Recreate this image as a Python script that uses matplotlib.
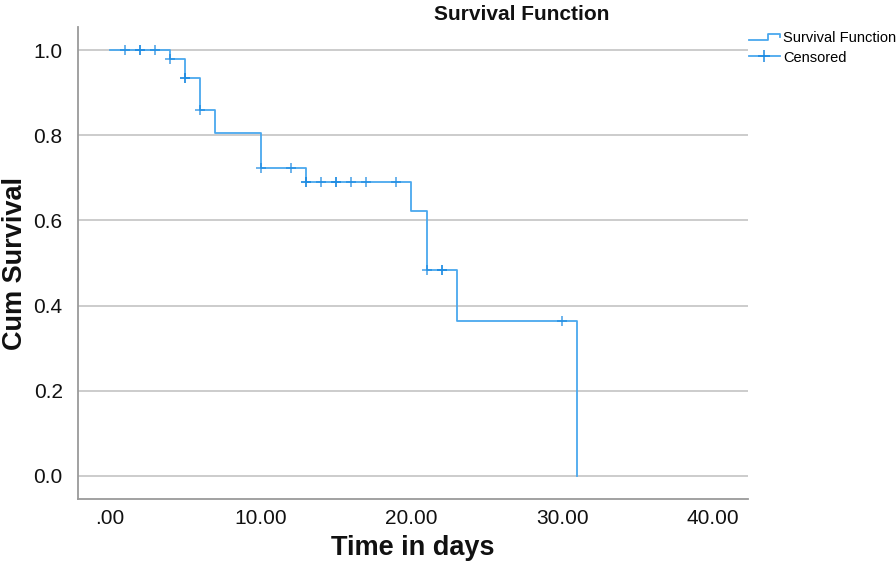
import numpy as np
import matplotlib
matplotlib.use('Agg')
import matplotlib.pyplot as plt
from matplotlib.lines import Line2D
from matplotlib.legend_handler import HandlerBase

plt.rcParams['font.family'] = ['Liberation Sans', 'DejaVu Sans']

# Kaplan-Meier step values
event_times = [0, 4, 5, 6, 7, 10, 13, 20, 21, 23, 31]
survival = [1.0, 0.978, 0.934, 0.860, 0.806, 0.722, 0.690, 0.622, 0.484, 0.363, 0.0]
# censored times (repeats = several cases at the same time)
censored_times = [1, 2, 2, 3, 4, 5, 5, 6, 10, 12, 13, 13, 14, 15, 15, 16, 17, 19, 21, 22, 22, 30]

x_ticks = [0, 10, 20, 30, 40]
x_ticklabels = ['.00', '10.00', '20.00', '30.00', '40.00']
y_ticks = [0.0, 0.2, 0.4, 0.6, 0.8, 1.0]

line_color = '#4aa8ee'
mark_color = '#1c8ae2'


class StepHandler(HandlerBase):
    def create_artists(self, legend, orig_handle, xdescent, ydescent,
                       width, height, fontsize, trans):
        xs = np.array([0.0, 0.62, 0.62, 1.0, 1.0]) * width - xdescent
        ys = np.array([0.2, 0.2, 0.75, 0.75, 0.45]) * height - ydescent
        ln = Line2D(xs, ys, color=line_color, lw=1.3, transform=trans)
        return [ln]


fig = plt.figure(figsize=(8.96, 5.68), dpi=100)
ax = fig.add_axes([78 / 896, 69 / 568, 670 / 896, 472 / 568])

ax.step(event_times, survival, where='post', color=line_color, lw=1.3, zorder=3)

idx = np.searchsorted(event_times, censored_times, side='right') - 1
cens_y = np.array(survival)[idx]
ax.plot(censored_times, cens_y, linestyle='none', marker='+', markersize=7.5,
        markeredgewidth=1.2, color=mark_color, alpha=0.75, zorder=4)

ax.set_xlim(-2.1, 42.3)
ax.set_ylim(-0.054, 1.054)
ax.set_xticks(x_ticks)
ax.set_xticklabels(x_ticklabels)
ax.set_yticks(y_ticks)
ax.set_yticklabels(['{:.1f}'.format(v) for v in y_ticks])
ax.tick_params(length=0, labelsize=15, colors='#111111')
ax.tick_params(axis='y', pad=11)
ax.tick_params(axis='x', pad=7)
ax.yaxis.grid(True, color='#cccccc', lw=1.4)
ax.set_axisbelow(True)

for s in ['top', 'right']:
    ax.spines[s].set_visible(False)
for s in ['left', 'bottom']:
    ax.spines[s].set_color('#9a9a9a')
    ax.spines[s].set_linewidth(1.3)

ax.set_xlabel('Time in days', fontsize=19.5, fontweight='bold', color='#111111', labelpad=5)
ax.set_ylabel('Cum Survival', fontsize=19.5, fontweight='bold', color='#111111', labelpad=4)

fig.text(522 / 896, 1 - 14 / 568, 'Survival Function', fontsize=15, fontweight='bold',
         ha='center', va='center', color='#111111')

surv_handle = Line2D([], [], color=line_color)
cens_handle = Line2D([], [], color=line_color, lw=1.3, marker='+', markersize=9,
                     markeredgewidth=1.1, markeredgecolor=mark_color)
fig.legend([surv_handle, cens_handle], ['Survival Function', 'Censored'],
           loc='upper left', bbox_to_anchor=(749 / 896, 1 - 31 / 568),
           frameon=False, fontsize=10.5, handlelength=2.1, handletextpad=0.25,
           labelspacing=0.38, borderaxespad=0, borderpad=0,
           handler_map={surv_handle: StepHandler()})

fig.savefig('out.png', dpi=100)
